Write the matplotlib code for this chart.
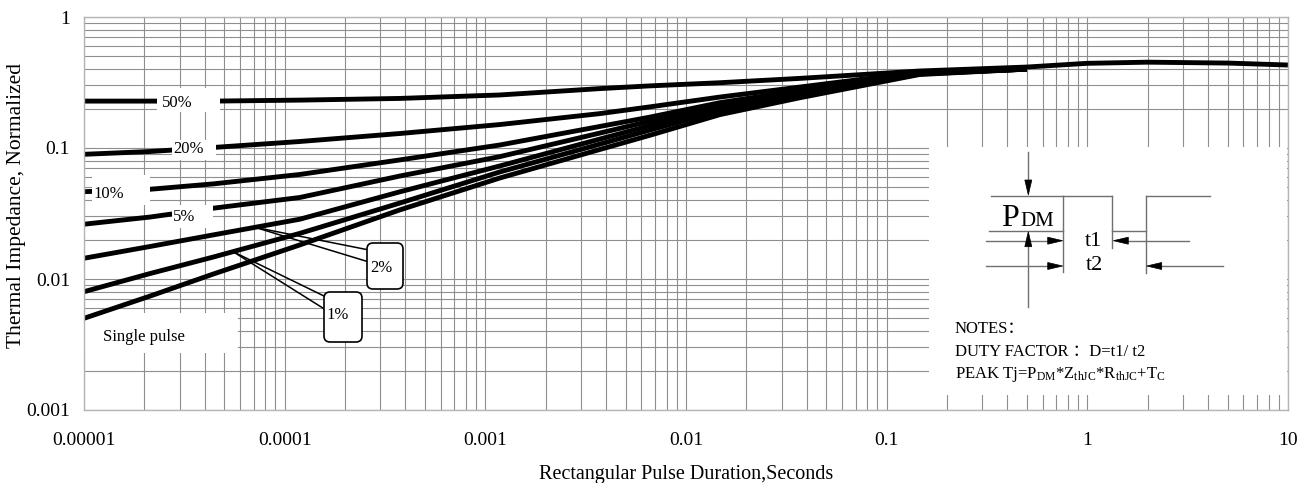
import numpy as np
import matplotlib
matplotlib.use("Agg")
import matplotlib.pyplot as plt
from matplotlib.patches import Rectangle, Polygon, FancyBboxPatch
from matplotlib.lines import Line2D
from matplotlib.transforms import Affine2D
from matplotlib.ticker import LogLocator, NullFormatter

W, H, DPI = 1311, 483, 100

# Pulse duration (s) shared by the duty-cycle curves
pulse_t = [1e-5, 2.13e-5, 4.4e-5, 1.19e-4, 3.75e-4, 1.18e-3, 3.72e-3, 6.6e-3, 1.48e-2, 3.7e-2, 0.146, 0.5]

# Normalized transient thermal impedance per duty cycle
z_50 = [0.228, 0.228, 0.228, 0.232, 0.239, 0.254, 0.284, 0.298, 0.315, 0.340, 0.387, 0.415]
z_20 = [0.0895, 0.0940, 0.1009, 0.1121, 0.129, 0.151, 0.183, 0.206, 0.245, 0.292, 0.380, 0.400]
z_10 = [0.0464, 0.0484, 0.0532, 0.0628, 0.0811, 0.1054, 0.146, 0.172, 0.222, 0.275, 0.376, 0.400]
z_5 = [0.0262, 0.0297, 0.0347, 0.0419, 0.0611, 0.0859, 0.130, 0.160, 0.212, 0.266, 0.373, 0.400]
z_2 = [0.0144, 0.0177, 0.0217, 0.0286, 0.0463, 0.0729, 0.117, 0.148, 0.203, 0.258, 0.370, 0.400]
z_1 = [0.0080, 0.0110, 0.0147, 0.0223, 0.0380, 0.0656, 0.107, 0.137, 0.193, 0.250, 0.367, 0.400]
z_single = [0.00501, 0.0074, 0.0109, 0.0182, 0.0337, 0.059, 0.0974, 0.125, 0.180, 0.242, 0.364, 0.400]

# Long-pulse tail shared by all curves
tail_t = [0.5, 1, 2, 5, 10]
tail_z = [0.415, 0.443, 0.452, 0.445, 0.430]

x_ticks = [1e-5, 1e-4, 1e-3, 1e-2, 1e-1, 1, 10]
x_tick_labels = ["0.00001", "0.0001", "0.001", "0.01", "0.1", "1", "10"]
y_ticks = [1e-3, 1e-2, 1e-1, 1]
y_tick_labels = ["0.001", "0.01", "0.1", "1"]

plt.rcParams["font.family"] = ["Liberation Serif", "Noto Sans CJK SC"]
plt.rcParams["mathtext.fontset"] = "custom"
plt.rcParams["mathtext.rm"] = "Liberation Serif"
plt.rcParams["mathtext.it"] = "Liberation Serif"

fig = plt.figure(figsize=(W / DPI, H / DPI), dpi=DPI)
L, R, T, B = 84, 1288, 17, 410
ax = fig.add_axes([L / W, 1 - B / H, (R - L) / W, (B - T) / H])

# pixel coordinates (origin top-left) -> figure
pix = Affine2D().scale(1 / W, -1 / H).translate(0, 1) + fig.transFigure

ax.set_xscale("log")
ax.set_yscale("log")
ax.set_xlim(1e-5, 10)
ax.set_ylim(1e-3, 1)

ax.grid(True, which="both", color="#8f8f8f", lw=0.8)
ax.set_axisbelow(True)
for s in ax.spines.values():
    s.set_color("#b5b5b5")
    s.set_linewidth(1.0)
ax.tick_params(which="both", length=0)
ax.set_xticks(x_ticks, x_tick_labels, fontsize=14)
ax.set_yticks(y_ticks, y_tick_labels, fontsize=14)
ax.tick_params(axis="x", pad=16)
ax.tick_params(axis="y", pad=10)
ax.xaxis.set_minor_locator(LogLocator(base=10, subs=np.arange(2, 10), numticks=20))
ax.yaxis.set_minor_locator(LogLocator(base=10, subs=np.arange(2, 10), numticks=20))
ax.xaxis.set_minor_formatter(NullFormatter())
ax.yaxis.set_minor_formatter(NullFormatter())

ax.set_xlabel("Rectangular Pulse Duration,Seconds", fontsize=14.5)
ax.set_ylabel("Thermal Impedance, Normalized", fontsize=15.5)
ax.xaxis.set_label_coords(0.5, -0.14)
ax.yaxis.set_label_coords(-0.048, 0.52)

lw = 3.5
ax.plot(pulse_t + tail_t[1:], z_50 + tail_z[1:], color="black", lw=lw, solid_capstyle="butt", zorder=2)
for z in (z_20, z_10, z_5, z_2, z_1, z_single):
    ax.plot(pulse_t, z, color="black", lw=lw, solid_capstyle="butt", zorder=2)

# white panels behind the curves (single-pulse label, notes area)
for x0, y0, w, h in [(85, 313, 153, 40), (929, 147, 358, 248)]:
    ax.add_patch(Rectangle((x0, y0), w, h, transform=pix, facecolor="white",
                           edgecolor="none", zorder=1.5))
# white gaps cut into the curves for the duty-cycle labels
for x0, y0, w, h in [(157, 88, 63, 24), (172, 140, 44, 20), (92, 175, 58, 30), (172, 205, 41, 23)]:
    ax.add_patch(Rectangle((x0, y0), w, h, transform=pix, facecolor="white",
                           edgecolor="none", zorder=3))

lab_kw = dict(transform=pix, fontsize=12, va="center", zorder=4)
ax.text(162, 103, "50%", **lab_kw)
ax.text(173, 149, "20%", **lab_kw)
ax.text(93, 194, "10%", **lab_kw)
ax.text(173, 217, "5%", **lab_kw)
ax.text(103, 337, "Single pulse", **lab_kw)


def curve_px_y(px_x, ts, zs):
    lx = -5 + (px_x - L) / ((R - L) / 6)
    lz = np.interp(lx, np.log10(ts), np.log10(zs))
    return T + (0 - lz) * (B - T) / 3


def callout(anchor_px, curve, box, tips, text, text_xy):
    ay = curve_px_y(anchor_px, pulse_t, curve)
    for tx, ty in tips:
        ax.add_line(Line2D([anchor_px, tx], [ay, ty], transform=pix, color="black",
                           lw=1.1, zorder=5))
    x0, y0, w, h = box
    ax.add_patch(FancyBboxPatch((x0, y0), w, h, boxstyle="round,pad=0,rounding_size=6",
                                transform=pix, facecolor="white", edgecolor="black",
                                lw=1.2, zorder=6))
    ax.text(text_xy[0], text_xy[1], text, transform=pix, fontsize=12,
            va="center", ha="left", zorder=7)


callout(255, z_2, (367, 243, 36, 46), [(369, 250), (369, 262)], "2%", (370, 268))
callout(233, z_1, (324, 292, 38, 50), [(326, 297), (326, 310)], "1%", (326, 315))

# pulse diagram
gl = dict(transform=pix, color="#707070", lw=1.0, zorder=5)
segs = [((1028.3, 151.7), (1028.3, 182)),
        ((990.7, 195.7), (1063.3, 195.7)),
        ((1063.3, 195.7), (1063.3, 271.7)),
        ((1063.3, 195.7), (1112.3, 195.7)),
        ((1112.3, 195.7), (1112.3, 248.3)),
        ((1112.3, 231), (1146, 231)),
        ((1146, 195.7), (1146, 273.3)),
        ((1146, 195.7), (1210, 195.7)),
        ((989.3, 231), (1063.3, 231)),
        ((1028.3, 306.7), (1028.3, 245)),
        ((986, 240.7), (1048, 240.7)),
        ((1128, 240.7), (1189.3, 240.7)),
        ((986, 266), (1048, 266)),
        ((1161, 266), (1222.7, 266))]
for (x0, y0), (x1, y1) in segs:
    ax.add_line(Line2D([x0, x1], [y0, y1], **gl))


def head(tip, direction, length=15, half=3.5):
    tx, ty = tip
    dx, dy = direction
    bx, by = tx - dx * length, ty - dy * length
    ox, oy = -dy * half, dx * half
    ax.add_patch(Polygon([(tx, ty), (bx + ox, by + oy), (bx - ox, by - oy)],
                         closed=True, transform=pix, facecolor="black",
                         edgecolor="black", lw=0.5, zorder=6))


head((1028.3, 195), (0, 1))
head((1028.3, 231.7), (0, -1))
head((1062.7, 240.7), (1, 0))
head((1113.3, 240.7), (-1, 0))
head((1062.7, 266), (1, 0))
head((1146.7, 266), (-1, 0))

ax.text(1001, 226, "P", transform=pix, fontsize=23, va="baseline", zorder=6)
ax.text(1020, 226, "DM", transform=pix, fontsize=15, va="baseline", zorder=6)
ax.text(1093, 241, "t1", transform=pix, fontsize=16, va="center", ha="center", zorder=6)
ax.text(1094, 266, "t2", transform=pix, fontsize=16, va="center", ha="center", zorder=6)

nk = dict(transform=pix, fontsize=12, va="baseline", ha="left", zorder=6)
ax.text(955, 332.7, "NOTES：", **nk)
ax.text(955, 356, "DUTY FACTOR ：D=t1/ t2", **nk)
ax.text(955, 378.3, r"PEAK Tj=P$_\mathrm{DM}$*Z$_\mathrm{thJC}$*R$_\mathrm{thJC}$+T$_\mathrm{C}$", **nk)

fig.savefig("out.png", dpi=DPI)
